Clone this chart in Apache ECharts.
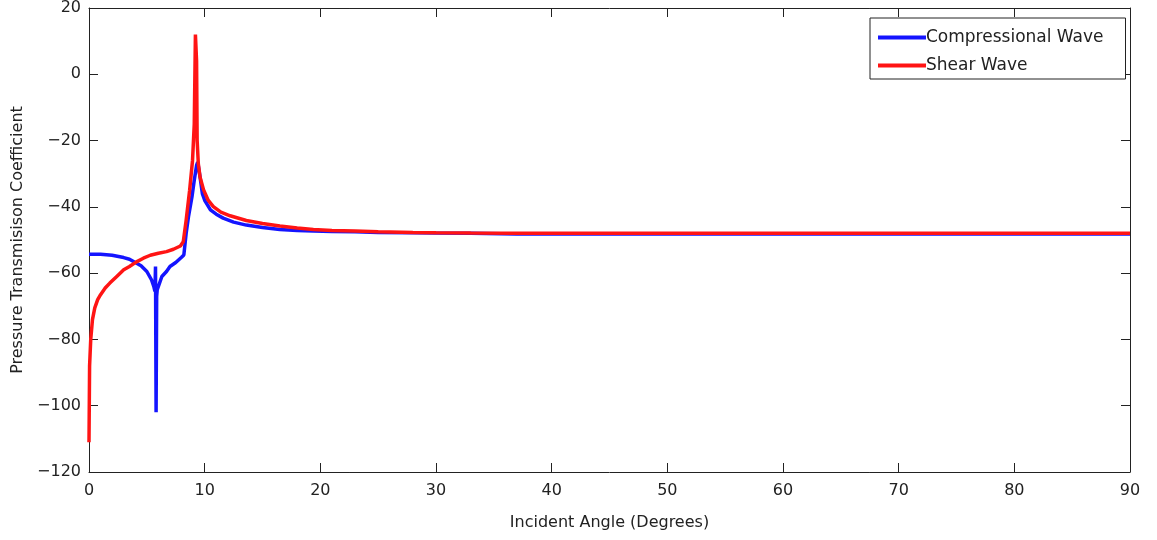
<!DOCTYPE html>
<html>
<head>
<meta charset="utf-8">
<script src="https://cdn.jsdelivr.net/npm/echarts@6/dist/echarts.min.js"></script>
<style>
html,body{margin:0;padding:0;background:#fff;}
#c{width:1157px;height:540px;}
</style>
</head>
<body>
<div id="c"></div>
<script>
const xTicks = [0,10,20,30,40,50,60,70,80,90];
const yTicks = [-120,-100,-80,-60,-40,-20,0,20];

const compX = [0,1,2,3,3.5,4,4.5,5,5.4,5.6,5.7,5.75,5.8,5.85,5.9,6.3,6.7,7,7.5,8,8.2,8.4,8.6,8.9,9.1,9.3,9.4,9.6,9.8,10,10.5,11,11.6,12.5,13.6,15,16.5,18,19.4,21,23,25,28,30,33,37,40,45,50,60,70,80,90];
const compY = [-54.3,-54.3,-54.6,-55.3,-55.8,-56.8,-57.8,-59.5,-62,-64,-65.5,-58,-102,-67,-65,-61,-59.5,-58,-56.8,-55.2,-54.5,-48,-43,-37,-32,-27.5,-26.5,-31,-36,-38,-40.9,-42.2,-43.4,-44.6,-45.5,-46.2,-46.8,-47.1,-47.3,-47.4,-47.5,-47.7,-47.8,-47.9,-48,-48.2,-48.2,-48.2,-48.2,-48.2,-48.2,-48.2,-48.2];

const shearX = [0,0.05,0.15,0.3,0.5,0.75,1,1.4,1.8,2.4,3,3.5,4.1,4.7,5.3,6,6.7,7.3,7.9,8.15,8.4,8.7,8.95,9.1,9.2,9.25,9.3,9.35,9.45,9.6,9.9,10.3,10.75,11.4,12.2,13.6,15,16.5,18,19.4,21,23,25,28,30,33,37,40,45,50,60,70,80,90];
const shearY = [-111,-88,-80,-74,-70.5,-68,-66.5,-64.5,-63,-61,-59,-58,-56.6,-55.5,-54.6,-54,-53.5,-52.8,-51.8,-50.5,-44,-35,-26,-15,12,11.5,4,-20,-27,-31,-34.8,-38,-39.9,-41.6,-42.7,-44.1,-45,-45.8,-46.4,-46.8,-47.1,-47.3,-47.5,-47.7,-47.8,-47.9,-48,-48,-48,-48,-48,-48,-48,-48];

const seriesNames = ['Compressional Wave','Shear Wave'];

const zip = (xs, ys) => xs.map((x,i)=>[x, ys[i]]);
const font = 'DejaVu Sans';
const txt = '#222';
const minus = v => String(v).replace('-', '\u2212');

const chart = echarts.init(document.getElementById('c'), null, {renderer:'canvas'});
const axisCommon = {
  type:'value',
  axisLine:{show:true, onZero:false, lineStyle:{color:'#222', width:1}},
  axisTick:{show:true, inside:true, length:9, lineStyle:{color:'#222'}},
  splitLine:{show:false}
};
chart.setOption({
  animation:false,
  backgroundColor:'#fff',
  grid:{left:89, right:27, top:8, bottom:68, show:false},
  legend:{
    data:seriesNames,
    orient:'vertical',
    left:870, top:18,
    itemWidth:48, itemHeight:4, icon:'rect',
    itemGap:11,
    padding:[11,22,5,8],
    backgroundColor:'#fff',
    borderColor:'#222', borderWidth:1, borderRadius:0,
    textStyle:{fontFamily:font, fontSize:17, color:txt, padding:[0,0,0,-5]}
  },
  xAxis:[
    Object.assign({}, axisCommon, {
      min:xTicks[0], max:xTicks[xTicks.length-1], interval:10, position:'bottom',
      axisLabel:{fontFamily:font, fontSize:16, color:txt, margin:11, formatter:minus},
      name:'Incident Angle (Degrees)', nameLocation:'middle', nameGap:43,
      nameTextStyle:{fontFamily:font, fontSize:16, color:txt}
    }),
    Object.assign({}, axisCommon, {
      min:xTicks[0], max:xTicks[xTicks.length-1], interval:10, position:'top',
      axisLabel:{show:false}
    })
  ],
  yAxis:[
    Object.assign({}, axisCommon, {
      min:yTicks[0], max:yTicks[yTicks.length-1], interval:20, position:'left',
      axisLabel:{fontFamily:font, fontSize:16, color:txt, margin:8, formatter:minus},
      name:'Pressure Transmisison Coefficient', nameLocation:'middle', nameGap:62,
      nameTextStyle:{fontFamily:font, fontSize:16, color:txt}
    }),
    Object.assign({}, axisCommon, {
      min:yTicks[0], max:yTicks[yTicks.length-1], interval:20, position:'right',
      axisLabel:{show:false}
    })
  ],
  series:[
    {name:seriesNames[0], type:'line', data:zip(compX, compY), showSymbol:false, symbol:'none',
     lineStyle:{color:'#1414ff', width:3.5}, itemStyle:{color:'#1414ff'}, z:2},
    {name:seriesNames[1], type:'line', data:zip(shearX, shearY), showSymbol:false, symbol:'none',
     lineStyle:{color:'#ff1414', width:3.5}, itemStyle:{color:'#ff1414'}, z:3}
  ]
});
</script>
</body>
</html>
